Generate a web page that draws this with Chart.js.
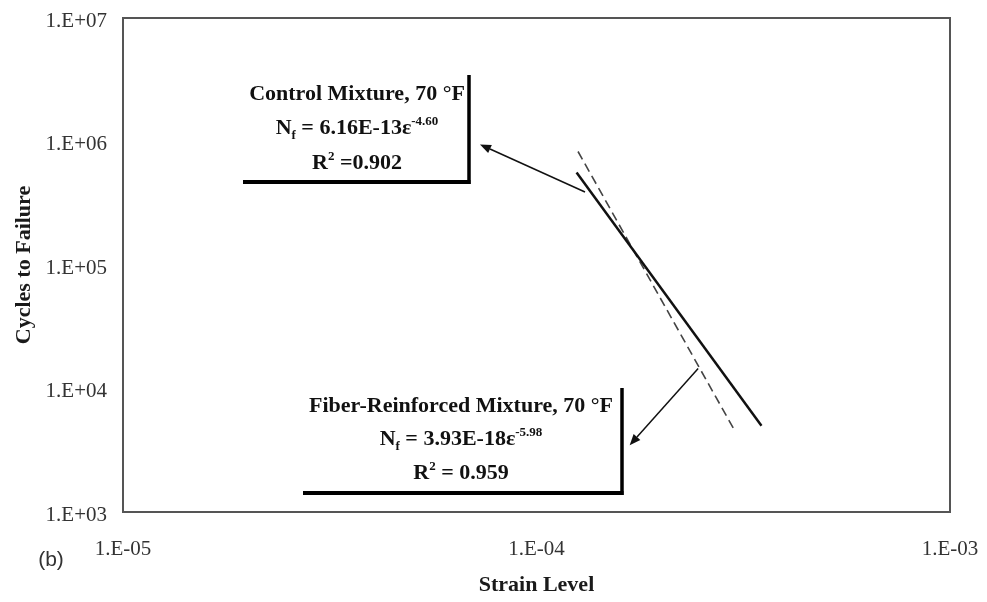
<!DOCTYPE html>
<html>
<head>
<meta charset="utf-8">
<script src="https://cdn.jsdelivr.net/npm/chart.js@4"></script>
<style>
  html, body { margin: 0; padding: 0; background: #ffffff; }
  #wrap { width: 987px; height: 602px; position: relative; }
</style>
</head>
<body>
<div id="wrap"><canvas id="c" width="987" height="602"></canvas></div>
<script>
// ---- data ----
const controlStrain = [1.25e-4, 3.5e-4];
const controlCycles = [5.6e5, 5.0e3];
const fiberStrain = [1.26e-4, 3.0e-4];
const fiberCycles = [8.3e5, 4.7e3];

const xTickValues = [1e-5, 1e-4, 1e-3];
const xTickLabels = ['1.E-05', '1.E-04', '1.E-03'];
const yTickValues = [1e3, 1e4, 1e5, 1e6, 1e7];
const yTickLabels = ['1.E+03', '1.E+04', '1.E+05', '1.E+06', '1.E+07'];

const xTitle = 'Strain Level';
const yTitle = 'Cycles to Failure';
const panelLabel = '(b)';

const controlBoxLines = [
  [{t: 'Control Mixture, 70 °F'}],
  [{t: 'N'}, {t: 'f', sub: true}, {t: ' = 6.16E-13ε'}, {t: '-4.60', sup: true}],
  [{t: 'R'}, {t: '2', sup: true}, {t: ' =0.902'}]
];
const fiberBoxLines = [
  [{t: 'Fiber-Reinforced Mixture, 70 °F'}],
  [{t: 'N'}, {t: 'f', sub: true}, {t: ' = 3.93E-18ε'}, {t: '-5.98', sup: true}],
  [{t: 'R'}, {t: '2', sup: true}, {t: ' = 0.959'}]
];
// arrow tails on the lines / heads near boxes, in data coordinates [strain, cycles]
const controlArrow = {from: [1.31e-4, 3.9e5], to: [7.3e-5, 9.46e5]};
const fiberArrow = {from: [2.46e-4, 1.45e4], to: [1.68e-4, 3.47e3]};

const SERIF = '"Liberation Serif", "Times New Roman", serif';

function toPoints(xs, ys) { return xs.map((x, i) => ({x: x, y: ys[i]})); }

function drawRich(ctx, segs, cx, cy, size) {
  const fontMain = 'bold ' + size + 'px ' + SERIF;
  const small = Math.round(size * 0.6);
  const fontSmall = 'bold ' + small + 'px ' + SERIF;
  let total = 0;
  segs.forEach(s => { ctx.font = (s.sub || s.sup) ? fontSmall : fontMain; s.w = ctx.measureText(s.t).width; total += s.w; });
  let x = cx - total / 2;
  ctx.textAlign = 'left';
  ctx.textBaseline = 'alphabetic';
  const base = cy + size * 0.33;
  segs.forEach(s => {
    ctx.font = (s.sub || s.sup) ? fontSmall : fontMain;
    let y = base;
    if (s.sup) y = base - size * 0.42;
    if (s.sub) y = base + size * 0.2;
    ctx.fillText(s.t, x, y);
    x += s.w;
  });
}

function drawBox(ctx, b, lines) {
  ctx.save();
  ctx.fillStyle = '#ffffff';
  ctx.fillRect(b.left, b.top, b.right - b.left, b.bottom - b.top);
  ctx.strokeStyle = '#000';
  ctx.lineWidth = 4;
  ctx.beginPath();
  ctx.moveTo(b.left, b.bottom);
  ctx.lineTo(b.right + 1.5, b.bottom);
  ctx.stroke();
  ctx.lineWidth = 3.5;
  ctx.beginPath();
  ctx.moveTo(b.right, b.top);
  ctx.lineTo(b.right, b.bottom + 2);
  ctx.stroke();
  ctx.fillStyle = '#111';
  lines.forEach((segs, i) => drawRich(ctx, segs, b.cx, b.lineY[i], 22));
  ctx.restore();
}

function drawArrow(ctx, x1, y1, x2, y2) {
  ctx.save();
  ctx.strokeStyle = '#111';
  ctx.fillStyle = '#111';
  ctx.lineWidth = 1.5;
  const ang = Math.atan2(y2 - y1, x2 - x1);
  const hl = 11, hw = 4.5;
  const bx = x2 - Math.cos(ang) * hl, by = y2 - Math.sin(ang) * hl;
  ctx.beginPath();
  ctx.moveTo(x1, y1);
  ctx.lineTo(bx, by);
  ctx.stroke();
  ctx.beginPath();
  ctx.moveTo(x2, y2);
  ctx.lineTo(bx + Math.sin(ang) * hw, by - Math.cos(ang) * hw);
  ctx.lineTo(bx - Math.sin(ang) * hw, by + Math.cos(ang) * hw);
  ctx.closePath();
  ctx.fill();
  ctx.restore();
}

const decorPlugin = {
  id: 'decor',
  afterDatasetsDraw(chart) {
    const ctx = chart.ctx;
    const a = chart.chartArea;
    const xs = chart.scales.x, ys = chart.scales.y;
    // frame
    ctx.save();
    ctx.strokeStyle = '#555';
    ctx.lineWidth = 2;
    ctx.strokeRect(a.left, a.top, a.right - a.left, a.bottom - a.top);
    ctx.restore();
    // annotation boxes
    drawBox(ctx, {left: 243, right: 469, top: 75, bottom: 182, cx: 357, lineY: [93, 127, 162]}, controlBoxLines);
    drawBox(ctx, {left: 303, right: 622, top: 388, bottom: 493, cx: 461, lineY: [405, 438, 472]}, fiberBoxLines);
    // arrows
    [controlArrow, fiberArrow].forEach(ar => {
      drawArrow(ctx,
        xs.getPixelForValue(ar.from[0]), ys.getPixelForValue(ar.from[1]),
        xs.getPixelForValue(ar.to[0]), ys.getPixelForValue(ar.to[1]));
    });
    // panel label
    ctx.save();
    ctx.fillStyle = '#333';
    ctx.font = '21px "Liberation Sans", Arial, sans-serif';
    ctx.textAlign = 'center';
    ctx.textBaseline = 'middle';
    ctx.fillText(panelLabel, 51, 560);
    ctx.restore();
  }
};

new Chart(document.getElementById('c'), {
  type: 'scatter',
  data: {
    datasets: [
      {
        label: 'Control Mixture, 70 °F',
        data: toPoints(controlStrain, controlCycles),
        showLine: true,
        borderColor: '#111',
        borderWidth: 2.5,
        pointRadius: 0,
        fill: false
      },
      {
        label: 'Fiber-Reinforced Mixture, 70 °F',
        data: toPoints(fiberStrain, fiberCycles),
        showLine: true,
        borderColor: '#444',
        borderWidth: 1.6,
        borderDash: [9, 5],
        pointRadius: 0,
        fill: false
      }
    ]
  },
  options: {
    responsive: false,
    animation: false,
    layout: { padding: { top: 18, right: 37, left: 0, bottom: 0 } },
    plugins: { legend: { display: false }, tooltip: { enabled: false } },
    scales: {
      x: {
        type: 'logarithmic',
        position: 'bottom',
        min: 1e-5,
        max: 1e-3,
        grid: { display: true, color: 'rgba(0,0,0,0)', drawOnChartArea: false, drawTicks: true, tickLength: 25 },
        border: { display: false },
        afterBuildTicks: (s) => { s.ticks = xTickValues.map(v => ({value: v})); },
        afterFit: (s) => { s.height = 90; },
        ticks: {
          autoSkip: false,
          maxRotation: 0,
          padding: 0,
          color: '#333',
          font: { family: SERIF, size: 21 },
          callback: (v) => { const i = xTickValues.indexOf(v); return i >= 0 ? xTickLabels[i] : ''; }
        },
        title: {
          display: true,
          text: xTitle,
          color: '#1a1a1a',
          font: { family: SERIF, size: 22, weight: 'bold' },
          padding: { top: 0, bottom: 3 }
        }
      },
      y: {
        type: 'logarithmic',
        position: 'left',
        min: 1e3,
        max: 1e7,
        grid: { display: true, color: 'rgba(0,0,0,0)', drawOnChartArea: false, drawTicks: true, tickLength: 16 },
        border: { display: false },
        afterBuildTicks: (s) => { s.ticks = yTickValues.map(v => ({value: v})); },
        afterFit: (s) => { s.width = 123; },
        ticks: {
          autoSkip: false,
          padding: 0,
          labelOffset: 3,
          color: '#333',
          font: { family: SERIF, size: 21 },
          callback: (v) => { const i = yTickValues.indexOf(v); return i >= 0 ? yTickLabels[i] : ''; }
        },
        title: {
          display: true,
          text: yTitle,
          color: '#1a1a1a',
          font: { family: SERIF, size: 22, weight: 'bold' },
          padding: { top: 11, bottom: 0 }
        }
      }
    }
  },
  plugins: [decorPlugin]
});
</script>
</body>
</html>
